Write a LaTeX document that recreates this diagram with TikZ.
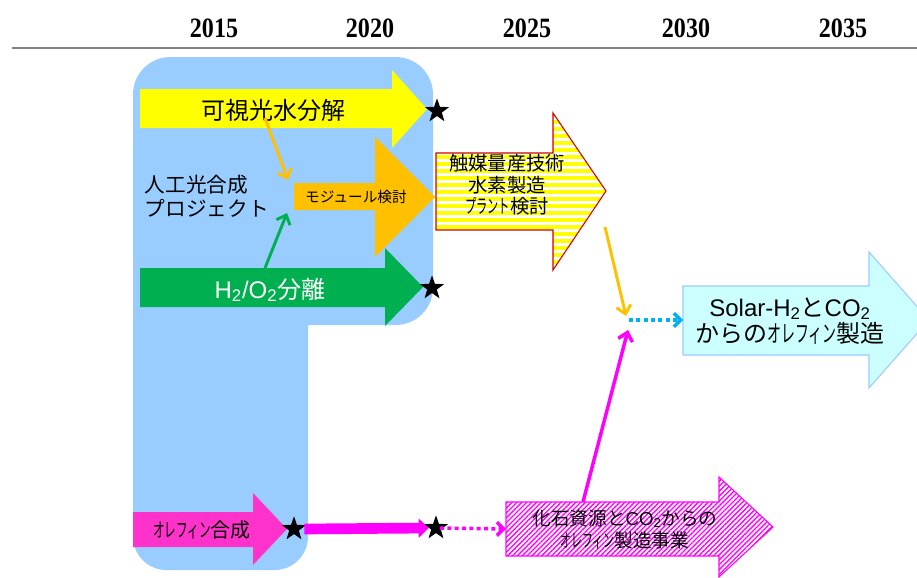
\documentclass[tikz,border=0pt]{standalone}
\usepackage{fontspec}
\usepackage{graphicx}
\setmainfont{Liberation Sans}
\newfontfamily\jp{Noto Sans CJK JP}
\newfontfamily\tnr{Liberation Serif}
\newcommand\hwk[1]{\scalebox{0.58}[1]{#1}}
\newcommand\yrtxt[1]{\scalebox{0.86}[1]{#1}}
\usetikzlibrary{shapes.geometric,arrows.meta,patterns.meta}
\definecolor{bgblue}{HTML}{99CCFF}
\definecolor{ayellow}{HTML}{FFFF00}
\definecolor{aorange}{HTML}{FFC000}
\definecolor{agreen}{HTML}{00B050}
\definecolor{apink}{HTML}{FF33CC}
\definecolor{amag}{HTML}{FF00FF}
\definecolor{acyan}{HTML}{CCFFFF}
\definecolor{adot}{HTML}{00B0F0}
\definecolor{ared}{HTML}{CC0000}
\definecolor{axis}{HTML}{808080}
\begin{document}
\begin{tikzpicture}[x=0.75pt,y=-0.75pt,
  year/.style={font=\tnr\bfseries\fontsize{21}{22}\selectfont},
  starnode/.style={star,star points=5,star point ratio=2.5,fill=black,minimum size=19pt,inner sep=0pt},
  barb/.style={-{Straight Barb[length=6pt,width=11pt]}},
  thinarrow/.style={line width=2.2pt,barb},
  dotarrow/.style={line width=2.6pt,dash pattern=on 3pt off 2.5pt,-{Straight Barb[length=5pt,width=10pt]}},
  jpt/.style={font=\jp\fontsize{#1}{#1}\selectfont}]
\useasboundingbox (0,0) rectangle (917,578);
\clip (0,0) rectangle (917,578);

% timeline
\foreach \yr/\xx in {2015/214,2020/370,2025/527,2030/686,2035/843}
  \node[year] (y\yr) at (\xx,28) {\yrtxt{\yr}};
\coordinate (axl) at (12,48);
\coordinate (axr) at (917,48);
\draw[axis,line width=1.5pt] (axl) -- (axr);

% background
\fill[bgblue,rounded corners=28] (133,57) rectangle (433,325);
\fill[bgblue,rounded corners=25] (133,250) rectangle (308,570);

% yellow arrow
\fill[ayellow] (140,89) -- (392,89) -- (392,70) -- (427,109) -- (392,148) -- (392,128) -- (140,128) -- cycle;
\node[jpt=18] (vis) at (273,110) {可視光水分解};
\node[starnode] (s1) at (437,111) {};

% orange module arrow
\fill[aorange] (294,183) -- (375,183) -- (375,137) -- (435,197) -- (375,257) -- (375,210) -- (294,210) -- cycle;
\node[jpt=11] (mod) at (356,197) {モジュール検討};

% green arrow
\fill[agreen] (140,268) -- (385,268) -- (385,248) -- (423,287) -- (385,326) -- (385,307) -- (140,307) -- cycle;
\node[font=\fontsize{18}{20}\selectfont,text=white] (h2o2) at (270,290) {H\textsubscript{2}/O\textsubscript{2}{\jp 分離}};
\node[starnode] (s2) at (432,288) {};

% project label
\node[align=left,anchor=west,font=\jp\fontsize{15.5}{18}\selectfont] (proj) at (140,196) {人工光合成\\プロジェクト};

% thin arrows into module
\coordinate (ya) at (265,118);
\coordinate (yb) at (288,180);
\coordinate (ga) at (265,268);
\coordinate (gb) at (287,213);
\draw[aorange,thinarrow] (ya) -- (yb);
\draw[agreen,thinarrow] (ga) -- (gb);

% striped arrow
\fill[white] (436,153) -- (553,153) -- (553,113) -- (606,191) -- (553,270) -- (553,230) -- (436,230) -- cycle;
\begin{scope}
\clip (436,153) -- (553,153) -- (553,113) -- (606,191) -- (553,270) -- (553,230) -- (436,230) -- cycle;
\foreach \k in {0,...,23}
  \fill[ayellow] (436,113+7*\k) rectangle (606,116.5+7*\k);
\end{scope}
\draw[ared,line width=0.8pt] (436,153) -- (553,153) -- (553,113) -- (606,191) -- (553,270) -- (553,230) -- (436,230) -- cycle;
\node[align=center,font=\jp\fontsize{14.5}{16}\selectfont] (cat) at (507,185) {触媒量産技術\\水素製造\\\hwk{プラント}検討};

% cyan arrow
\fill[acyan] (683,286) -- (869,286) -- (869,252) -- (929,320) -- (869,388) -- (869,355) -- (683,355) -- cycle;
\draw[bgblue,line width=0.8pt] (683,286) -- (869,286) -- (869,252) -- (929,320) -- (869,388) -- (869,355) -- (683,355) -- cycle;
\node[align=center,font=\fontsize{18}{20}\selectfont] (sol) at (790,321) {Solar-H\textsubscript{2}{\jp と}CO\textsubscript{2}\\{\jp からの\hwk{オレフィン}製造}};

% pink arrow
\fill[apink] (133,512) -- (253,512) -- (253,493) -- (287,529) -- (253,565) -- (253,547) -- (133,547) -- cycle;
\node[jpt=15] (ole) at (202,530) {\hwk{オレフィン}合成};
\node[starnode] (s3) at (294,529) {};
\node[starnode] (s4) at (436,528) {};
\draw[amag,line width=8pt,-{Triangle[length=7.5pt,width=14pt]}] (s3.east) ++(3,0) -- (s4.west);

% hatched arrow
\fill[white] (506,502) -- (719,502) -- (719,477) -- (773,527) -- (719,577) -- (719,556) -- (506,556) -- cycle;
\fill[pattern={Lines[angle=45,distance=2.6pt,line width=1pt]},pattern color=amag] (506,502) -- (719,502) -- (719,477) -- (773,527) -- (719,577) -- (719,556) -- (506,556) -- cycle;
\draw[amag,line width=0.8pt] (506,502) -- (719,502) -- (719,477) -- (773,527) -- (719,577) -- (719,556) -- (506,556) -- cycle;
\node[align=center,font=\fontsize{14}{16.5}\selectfont] (fos) at (625,529) {{\jp 化石資源と}CO\textsubscript{2}{\jp からの}\\{\jp \hwk{オレフィン}製造事業}};

% connectors to the final product
\coordinate (hx) at (506,529);
\draw[amag,dotarrow] (s4.center) ++(4,0) -- (hx);
\coordinate (cata) at (605,227);
\coordinate (catb) at (626,316);
\draw[aorange,thinarrow] (cata) -- (catb);
\coordinate (ma) at (583,502);
\coordinate (mb) at (628,330);
\draw[amag,line width=2.6pt,barb] (ma) -- (mb);
\coordinate (da) at (629,320);
\coordinate (db) at (683,320);
\draw[adot,dotarrow] (da) -- (db);
\end{tikzpicture}
\end{document}
